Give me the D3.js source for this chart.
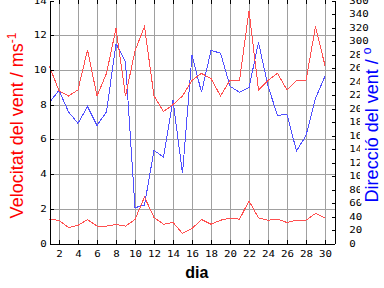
<!DOCTYPE html>
<html><head><meta charset="utf-8">
<script src="https://cdn.jsdelivr.net/npm/d3@7"></script>
<style>body{margin:0;background:#fff}svg{display:block}</style>
</head><body>
<svg id="c" width="384" height="288"></svg>
<script>
const days = [1,2,3,4,5,6,7,8,9,10,11,12,13,14,15,16,17,18,19,20,21,22,23,24,25,26,27,28,29,30];
const maxSpeed = [10.2,8.8,8.5,8.85,11.15,8.5,9.8,12.4,8.5,11.1,12.5,8.5,7.6,8.0,8.5,9.4,9.8,9.5,8.5,9.4,9.4,13.4,8.85,9.4,9.8,8.85,9.4,9.4,12.5,10.25];
const meanSpeed = [1.38,1.34,0.92,1.05,1.38,1.0,1.0,1.09,1.0,1.38,2.68,1.5,1.11,1.21,0.58,0.86,1.38,1.11,1.34,1.47,1.4,2.45,1.47,1.34,1.4,1.21,1.34,1.34,1.73,1.47];
const direction = [209,227,195,178,203,175,195,296,269,53,57,138,128,212,104,279,224,286,282,233,224,231,298,233,190,191,137,160,215,248];
const dayTicks = [2,4,6,8,10,12,14,16,18,20,22,24,26,28,30];
const speedTicks = [0,2,4,6,8,10,12,14];
const gridSpeed = [2,4,6,8,10,12];
const dirTicks = [0,20,40,60,80,100,120,140,160,180,200,220,240,260,280,300,320,340,360];
const xTitle = "dia";
const leftTitle = "Velocitat del vent / ms";
const leftSup = "-1";
const rightTitle = "Direcció del vent / ";
const rightSup = "o";

const svg = d3.select("#c");
svg.append("rect").attr("width",384).attr("height",288).attr("fill","#fff");

const x = d3.scaleLinear().domain([1,31]).range([49.5,334.5]);
const yL = d3.scaleLinear().domain([0,14]).range([243.5,0.5]);
const yR = d3.scaleLinear().domain([0,360]).range([243.5,0.5]);

// grids
const gx = svg.append("g").attr("transform","translate(0,243.5)")
  .call(d3.axisBottom(x).tickValues(dayTicks).tickSize(-243).tickFormat(""));
gx.select(".domain").remove();
gx.selectAll("line").attr("stroke","#a0a0a0").attr("shape-rendering","crispEdges");
const gy = svg.append("g").attr("transform","translate(49.5,0)")
  .call(d3.axisLeft(yL).tickValues(gridSpeed).tickSize(-285).tickFormat(""));
gy.select(".domain").remove();
gy.selectAll("line").attr("stroke","#a0a0a0").attr("shape-rendering","crispEdges");

// lines
const lineL = d3.line().x((d,i)=>x(days[i])).y(d=>yL(d));
const lineR = d3.line().x((d,i)=>x(days[i])).y(d=>yR(d));
svg.append("path").datum(direction).attr("d",lineR).attr("fill","none").attr("stroke","#5050ff").attr("stroke-width",1).attr("shape-rendering","crispEdges");
svg.append("path").datum(maxSpeed).attr("d",lineL).attr("fill","none").attr("stroke","#ff5050").attr("stroke-width",1).attr("shape-rendering","crispEdges");
svg.append("path").datum(meanSpeed).attr("d",lineL).attr("fill","none").attr("stroke","#ff5050").attr("stroke-width",1).attr("shape-rendering","crispEdges");

function styleAxis(g){
  g.selectAll("path,line").attr("stroke","#000").attr("shape-rendering","crispEdges");
  g.selectAll("text").attr("font-family","DejaVu Sans Mono").attr("font-size",8).attr("fill","#000")
    .attr("transform","scale(1.35,1)");
}
const aL = svg.append("g").attr("transform","translate(49.5,0)")
  .call(d3.axisLeft(yL).tickValues(speedTicks).tickSize(-4).tickSizeOuter(0).tickPadding(2));
styleAxis(aL);
const aR = svg.append("g").attr("transform","translate(334.5,0)")
  .call(d3.axisRight(yR).tickValues(dirTicks).tickSize(-3).tickSizeOuter(0).tickPadding(11));
styleAxis(aR);
const aB = svg.append("g").attr("transform","translate(0,243.5)")
  .call(d3.axisBottom(x).tickValues(dayTicks).tickSize(-4).tickSizeOuter(0).tickPadding(8));
styleAxis(aB);
const aT = svg.append("g").attr("transform","translate(0,0)")
  .call(d3.axisTop(x).tickValues(dayTicks).tickSize(-4).tickSizeOuter(0).tickFormat(""));
aT.select(".domain").remove();
styleAxis(aT);

// titles
const lt = svg.append("g").attr("transform","translate(23,125.5) rotate(-90)")
  .append("text").attr("text-anchor","middle").attr("font-family","Liberation Sans, Arial, sans-serif")
  .attr("font-size",18).attr("fill","#ff0000");
lt.append("tspan").text(leftTitle);
lt.append("tspan").attr("font-size",12).attr("dy",-7).text(leftSup);

const rg = svg.append("g").attr("transform","translate(378,125) rotate(-90)");
const rbg = rg.append("rect").attr("fill","#fff");
const rt = rg.append("text").attr("text-anchor","middle").attr("font-family","Liberation Sans, Arial, sans-serif")
  .attr("font-size",18).attr("fill","#0000ff");
rt.append("tspan").text(rightTitle);
rt.append("tspan").attr("font-size",12).attr("dy",-7).text(rightSup);
const bb = rt.node().getBBox();
rbg.attr("x",bb.x-1).attr("y",bb.y).attr("width",bb.width+2).attr("height",bb.height+4);

svg.append("text").attr("x",x(16.5)).attr("y",278).attr("text-anchor","middle")
  .attr("font-family","Liberation Sans, Arial, sans-serif").attr("font-weight","bold")
  .attr("font-size",16).attr("fill","#000").text(xTitle);
</script>
</body></html>
